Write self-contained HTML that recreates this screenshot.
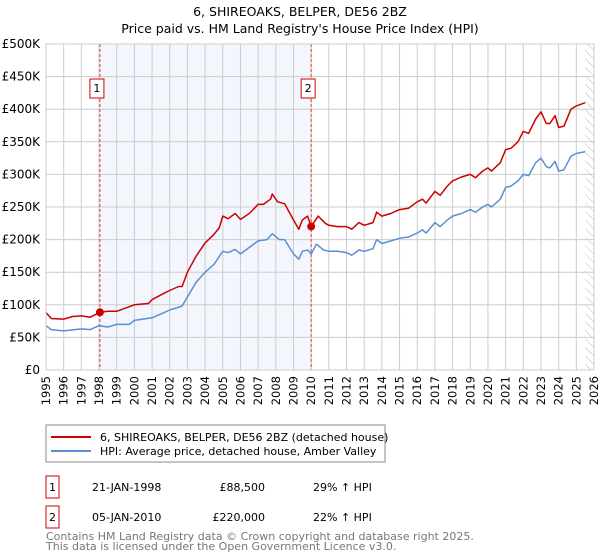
<!DOCTYPE html>
<html><head><meta charset="utf-8"><style>
body{margin:0;background:#fff;font-family:"Liberation Sans","DejaVu Sans",sans-serif;}
svg{display:block}
</style></head><body>
<svg width="600" height="560" xmlns="http://www.w3.org/2000/svg" font-family="'DejaVu Sans','Liberation Sans',sans-serif">
<text x="300" y="16" text-anchor="middle" font-size="12.5">6, SHIREOAKS, BELPER, DE56 2BZ</text>
<text x="300" y="33" text-anchor="middle" font-size="12.5">Price paid vs. HM Land Registry's House Price Index (HPI)</text>
<g id="plot"></g>
<g>
<rect x="46" y="425" width="339" height="37" fill="#fff" stroke="#888"/>
<line x1="51" y1="437" x2="91" y2="437" stroke="#cc0000" stroke-width="2"/>
<text x="100" y="441" font-size="11">6, SHIREOAKS, BELPER, DE56 2BZ (detached house)</text>
<line x1="51" y1="451" x2="91" y2="451" stroke="#5b8fd4" stroke-width="2"/>
<text x="100" y="455" font-size="11">HPI: Average price, detached house, Amber Valley</text>
</g>
<g font-size="11">
<rect x="46" y="476" width="13" height="22" fill="#fff" stroke="#cc0000"/>
<text x="52.5" y="491" text-anchor="middle">1</text>
<text x="92" y="491">21-JAN-1998</text>
<text x="265" y="491" text-anchor="end">£88,500</text>
<text x="313" y="491">29% ↑ HPI</text>
<rect x="46" y="506" width="13" height="22" fill="#fff" stroke="#cc0000"/>
<text x="52.5" y="521" text-anchor="middle">2</text>
<text x="92" y="521">05-JAN-2010</text>
<text x="265" y="521" text-anchor="end">£220,000</text>
<text x="313" y="521">22% ↑ HPI</text>
</g>
<text x="46" y="540" font-size="11" fill="#777">Contains HM Land Registry data © Crown copyright and database right 2025.</text>
<text x="46" y="550" font-size="11" fill="#777">This data is licensed under the Open Government Licence v3.0.</text>
</svg>
<script>
const yTicks=[0,50,100,150,200,250,300,350,400,450,500];
const yTickLabels=["£0","£50K","£100K","£150K","£200K","£250K","£300K","£350K","£400K","£450K","£500K"];
const xYears=[1995,1996,1997,1998,1999,2000,2001,2002,2003,2004,2005,2006,2007,2008,2009,2010,2011,2012,2013,2014,2015,2016,2017,2018,2019,2020,2021,2022,2023,2024,2025,2026];
const hpiT=[1995,1995.3,1996,1997,1997.5,1998,1998.5,1999,1999.7,2000,2001,2001.5,2002,2002.7,2003,2003.5,2004,2004.5,2005,2005.3,2005.7,2006,2006.5,2007,2007.5,2007.8,2008.2,2008.5,2009,2009.3,2009.5,2009.8,2010,2010.3,2010.7,2011,2011.5,2012,2012.3,2012.7,2013,2013.5,2013.7,2014,2014.5,2015,2015.5,2016,2016.3,2016.5,2017,2017.3,2017.7,2018,2018.5,2019,2019.3,2019.7,2020,2020.2,2020.7,2021,2021.3,2021.7,2022,2022.3,2022.7,2023,2023.3,2023.5,2023.8,2024,2024.3,2024.7,2025,2025.5];
const hpiV=[68,62,60,63,62,68,66,70,70,76,80,86,92,98,112,135,150,162,182,180,185,178,188,198,200,209,200,200,178,170,182,184,178,193,184,182,182,180,176,184,182,186,200,194,198,202,204,210,215,210,226,220,230,236,240,246,242,250,254,250,262,280,282,290,300,298,318,325,312,310,320,305,307,328,332,335];
const propT=[1995,1995.3,1996,1996.5,1997,1997.5,1998.05,1998.5,1999,1999.5,2000,2000.8,2001,2001.7,2002,2002.5,2002.7,2003,2003.5,2004,2004.5,2004.8,2005,2005.3,2005.7,2006,2006.5,2007,2007.3,2007.7,2007.8,2008.1,2008.5,2009,2009.3,2009.5,2009.8,2010,2010.4,2010.8,2011,2011.5,2012,2012.3,2012.7,2013,2013.5,2013.7,2014,2014.5,2015,2015.5,2016,2016.3,2016.5,2017,2017.3,2017.7,2018,2018.5,2019,2019.3,2019.7,2020,2020.2,2020.7,2021,2021.3,2021.7,2022,2022.3,2022.7,2023,2023.3,2023.5,2023.8,2024,2024.3,2024.7,2025,2025.5];
const propV=[88,79,78,82,83,81,88.5,90,90,95,100,102,108,118,122,128,128,150,175,195,208,218,236,232,240,231,240,254,254,262,270,258,255,230,216,230,236,220,236,225,222,220,220,216,226,222,226,242,236,240,246,248,258,262,256,274,268,282,290,296,300,295,305,310,305,318,338,340,350,366,363,385,396,378,378,390,372,374,400,405,410];
const saleT=[1998.05,2010.0];
const saleV=[88.5,220];
const saleLabels=["1","2"];

const NS="http://www.w3.org/2000/svg";
const L=46,R=594,T=44,B=370;
const xs=t=>L+(t-1995)/(2026-1995)*(R-L);
const ys=v=>B-v/500*(B-T);
const g=document.getElementById('plot');
function mk(tag,attrs){const e=document.createElementNS(NS,tag);for(const k in attrs)e.setAttribute(k,attrs[k]);g.appendChild(e);return e;}

let e=mk('rect',{x:xs(saleT[0]),y:T,width:xs(saleT[1])-xs(saleT[0]),height:B-T,fill:'#eef3fc',opacity:0.7});


// hatched future
const defs=document.createElementNS(NS,'defs');defs.innerHTML='<pattern id="hatch" width="6" height="6" patternUnits="userSpaceOnUse" patternTransform="rotate(-45)"><line x1="0" y1="0" x2="0" y2="6" stroke="#bbb" stroke-width="1"/></pattern>';g.appendChild(defs);
const hx=xs(2025.5);
e=mk('rect',{x:hx,y:T,width:R-hx,height:B-T,fill:'url(#hatch)'});



xYears.forEach(yr=>{
 const x=xs(yr);
 let l=mk('line',{x1:x,y1:T,x2:x,y2:B,stroke:'#ccc','stroke-width':1});
 
 
 let t=mk('text',{x:0,y:0,'font-size':11.5,'text-anchor':'end',transform:`translate(${x+4},${B+6}) rotate(-90)`});
 t.textContent=yr;
 
 
});
yTicks.forEach((v,i)=>{
 const y=ys(v);
 let l=mk('line',{x1:L,y1:y,x2:R,y2:y,stroke:'#ccc','stroke-width':1});
 
 
 let t=mk('text',{x:L-6,y:y+4,'font-size':12,'text-anchor':'end'});
 t.textContent=yTickLabels[i];
 
 
});
saleT.forEach((t,i)=>{
 let l=mk('line',{x1:xs(t),y1:T,x2:xs(t),y2:B,stroke:'#e04040','stroke-width':1,'stroke-dasharray':'3,2'});
 
 
 let r=mk('rect',{x:xs(t)-10,y:79,width:14,height:19,fill:'#fff',stroke:'#cc0000'});
 
 
 let tx=mk('text',{x:xs(t)-3,y:92,'font-size':11,'text-anchor':'middle'});
 tx.textContent=saleLabels[i];
 
 
});
function path(T_,V_,col,name){
 const d=T_.map((t,i)=>(i?'L':'M')+xs(t).toFixed(1)+','+ys(V_[i]).toFixed(1)).join('');
 const p=mk('path',{d:d,fill:'none',stroke:col,'stroke-width':1.5,'stroke-linejoin':'round'});
 
 
}
path(hpiT,hpiV,'#5b8fd4','hpi-line');
path(propT,propV,'#cc0000','property-line');
saleT.forEach((t,i)=>{
 const c=mk('circle',{cx:xs(t),cy:ys(saleV[i]),r:4,fill:'#cc0000'});
 
 
});
const fr=mk('rect',{x:L,y:T,width:R-L,height:B-T,fill:'none',stroke:'#ccc'});


</script>
</body></html>
